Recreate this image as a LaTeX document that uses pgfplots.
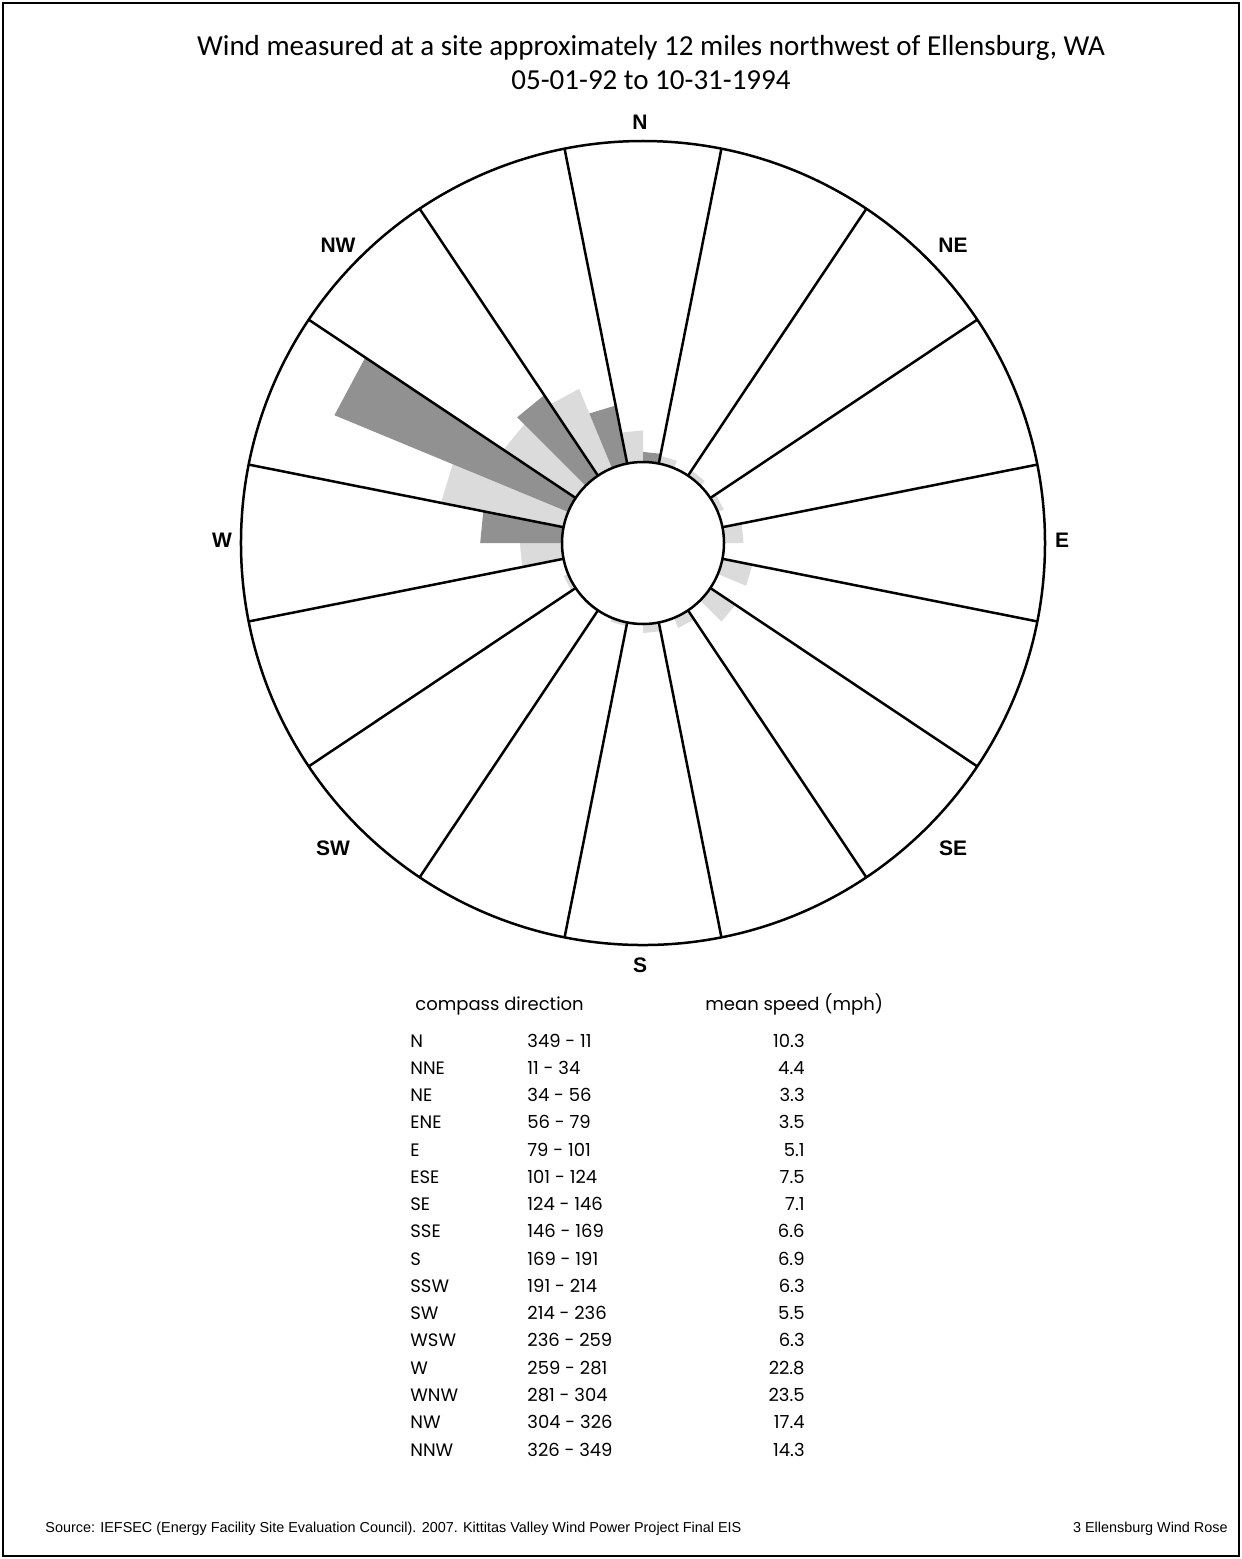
\documentclass[border=0pt]{standalone}
\usepackage{pgfplots}
\pgfplotsset{compat=1.18}
\usepgfplotslibrary{polar}
\usepackage{fontspec}
\setmainfont{Carlito}
\newfontfamily\tabfont{Poppins}
\newfontfamily\arialfont{Liberation Sans}
\definecolor{lightbar}{gray}{0.86}
\definecolor{darkbar}{gray}{0.57}
\begin{document}
\begin{tikzpicture}[x=0.5pt,y=-0.5pt]
\useasboundingbox (0,0) rectangle (1242,1559);
\draw[line width=0.9pt] (3,3) rectangle (1239,1556);
\coordinate (C) at (643,543);
% title
\node[font=\fontsize{14.5}{16}\selectfont] at (651,48) {Wind measured at a site approximately 12 miles northwest of Ellensburg, WA};
\node[font=\fontsize{14.5}{16}\selectfont] at (651,80) {05-01-92 to 10-31-1994};
\begin{polaraxis}[
  at={(C)}, anchor=center,
  scale only axis, width=402pt, height=402pt,
  xmin=0, xmax=360, ymin=0, ymax=80.08,
  x filter/.expression={90-x},
  y filter/.expression={y+16.13},
  xtick={11.25,33.75,...,348.75}, xticklabels={},
  ytick=\empty,
  xmajorgrids, ymajorgrids=false,
  major grid style={black, line width=1.25pt},
  x axis line style={black, line width=1.25pt},
  y axis line style={draw=none},
  major tick length=0pt,
  axis on top,
  no markers,
  every axis plot/.append style={draw=none},
]
% light gray series (lower half of each sector)
\addplot[fill=lightbar] coordinates {(-11.25,0) (-11.25,6.3) (0,6.3) (0,0)} --cycle;
\addplot[fill=lightbar] coordinates {(11.25,0) (11.25,1.6) (22.5,1.6) (22.5,0)} --cycle;
\addplot[fill=lightbar] coordinates {(33.75,0) (33.75,1.3) (45,1.3) (45,0)} --cycle;
\addplot[fill=lightbar] coordinates {(56.25,0) (56.25,1.3) (67.5,1.3) (67.5,0)} --cycle;
\addplot[fill=lightbar] coordinates {(78.75,0) (78.75,3.9) (90,3.9) (90,0)} --cycle;
\addplot[fill=lightbar] coordinates {(101.25,0) (101.25,6.1) (112.5,6.1) (112.5,0)} --cycle;
\addplot[fill=lightbar] coordinates {(123.75,0) (123.75,6.0) (135,6.0) (135,0)} --cycle;
\addplot[fill=lightbar] coordinates {(146.25,0) (146.25,2.2) (157.5,2.2) (157.5,0)} --cycle;
\addplot[fill=lightbar] coordinates {(168.75,0) (168.75,1.8) (180,1.8) (180,0)} --cycle;
\addplot[fill=lightbar] coordinates {(191.25,0) (191.25,0.8) (202.5,0.8) (202.5,0)} --cycle;
\addplot[fill=lightbar] coordinates {(213.75,0) (213.75,0.4) (225,0.4) (225,0)} --cycle;
\addplot[fill=lightbar] coordinates {(236.25,0) (236.25,1.0) (247.5,1.0) (247.5,0)} --cycle;
\addplot[fill=lightbar] coordinates {(258.75,0) (258.75,8.4) (270,8.4) (270,0)} --cycle;
\addplot[fill=lightbar] coordinates {(281.25,0) (281.25,24.9) (292.5,24.9) (292.5,0)} --cycle;
\addplot[fill=lightbar] coordinates {(303.75,0) (303.75,17.3) (315,17.3) (315,0)} --cycle;
\addplot[fill=lightbar] coordinates {(326.25,0) (326.25,17.1) (337.5,17.1) (337.5,0)} --cycle;
% dark gray series (upper half of each sector)
\addplot[fill=darkbar] coordinates {(0,0) (0,2.0) (11.25,2.0) (11.25,0)} --cycle;
\addplot[fill=darkbar] coordinates {(270,0) (270,16.3) (281.25,16.3) (281.25,0)} --cycle;
\addplot[fill=darkbar] coordinates {(292.5,0) (292.5,50.4) (303.75,50.4) (303.75,0)} --cycle;
\addplot[fill=darkbar] coordinates {(315,0) (315,19.3) (326.25,19.3) (326.25,0)} --cycle;
\addplot[fill=darkbar] coordinates {(337.5,0) (337.5,11.8) (348.75,11.8) (348.75,0)} --cycle;
\end{polaraxis}
\draw[line width=1.25pt, fill=white] (C) circle[radius=40.5pt];
% compass labels
\begin{scope}[every node/.style={font=\arialfont\bfseries\fontsize{10.5}{12}\selectfont}]
\node at (640,122) {N};
\node at (953,245) {NE};
\node at (1062,540) {E};
\node at (953,848) {SE};
\node at (640,965) {S};
\node at (333,848) {SW};
\node at (222,540) {W};
\node at (338,245) {NW};
\end{scope}
% table
\begin{scope}[every node/.style={font=\tabfont\fontsize{9}{11}\selectfont, inner sep=0pt}]
\node[anchor=base west] at (415,1010) {compass direction};
\node[anchor=base west] at (705,1010) {mean speed (mph)};
\foreach \nm/\rg/\sp [count=\i from 0] in {N/349 - 11/10.3, NNE/11 - 34/4.4, NE/34 - 56/3.3, ENE/56 - 79/3.5, E/79 - 101/5.1, ESE/101 - 124/7.5, SE/124 - 146/7.1, SSE/146 - 169/6.6, S/169 - 191/6.9, SSW/191 - 214/6.3, SW/214 - 236/5.5, WSW/236 - 259/6.3, W/259 - 281/22.8, WNW/281 - 304/23.5, NW/304 - 326/17.4, NNW/326 - 349/14.3}{
  \node[anchor=base west] at (410,1047+27.27*\i) {\nm};
  \node[anchor=base west] at (527,1047+27.27*\i) {\rg};
  \node[anchor=base east] at (805,1047+27.27*\i) {\sp};
}
\end{scope}
% footer
\node[anchor=base west, inner sep=0pt, font=\arialfont\fontsize{7.2}{8}\selectfont] at (45,1532) {Source: IEFSEC (Energy Facility Site Evaluation Council). 2007. Kittitas Valley Wind Power Project Final EIS};
\node[anchor=base east, inner sep=0pt, font=\arialfont\fontsize{7.2}{8}\selectfont] at (1228,1532) {3 Ellensburg Wind Rose};
\end{tikzpicture}
\end{document}
